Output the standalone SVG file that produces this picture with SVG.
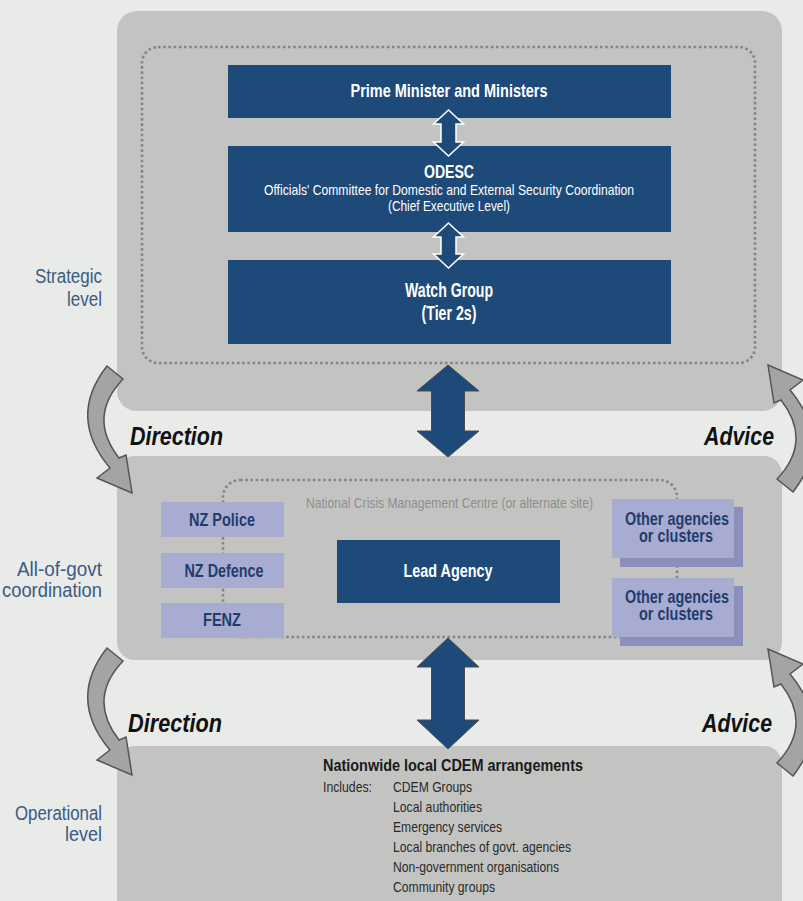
<svg xmlns="http://www.w3.org/2000/svg" width="803" height="901" viewBox="0 0 803 901">
  <style>
    .panel { fill: #c3c4c1; }
    .dots { fill: none; stroke: #858585; stroke-width: 2.6; stroke-dasharray: 2.6 2.6; }
    .blue { fill: #1e4a7a; }
    .lav { fill: #a9acd1; }
    .lavback { fill: #8a8fbd; }
    text { font-family: "Liberation Sans", Arial, sans-serif; }
    .wb { fill: #ffffff; font-weight: bold; text-anchor: middle; }
    .wr { fill: #ffffff; text-anchor: middle; }
    .db { fill: #1f3d6e; font-weight: bold; text-anchor: middle; }
    .lvl { fill: #3b5a85; font-size: 20.5px; text-anchor: end; }
    .flow { fill: #111111; font-weight: bold; font-style: italic; font-size: 25px; }
    .body { fill: #2a2a2a; font-size: 14.5px; }
    .curve { fill: #a3a5a3; stroke: #555555; stroke-width: 1.5; stroke-linejoin: miter; }
    .dbl { fill: #1e4a7a; stroke: #ffffff; stroke-width: 1.5; }
    .big { fill: #1e4a7a; stroke: #4a4a4a; stroke-width: 1; }
  </style>
  <defs>
    <path id="bend" class="curve" d="M107,366 Q67,417 110,468 L97,478 L132,493 L126,455 L119,458 Q87,417 123,379 Z"/>
  </defs>

  <rect x="0" y="0" width="803" height="901" fill="#e8ebe7"/>

  <!-- level panels -->
  <g id="strategic-panel">
    <rect class="panel" x="117" y="11" width="665" height="400" rx="20"/>
    <rect class="dots" x="142" y="47" width="613" height="316" rx="16"/>
  </g>
  <g id="coordination-panel">
    <rect class="panel" x="117" y="456" width="665" height="204" rx="18"/>
    <rect class="dots" x="223" y="480" width="454" height="157" rx="17"/>
  </g>
  <g id="operational-panel">
    <rect class="panel" x="117" y="746" width="665" height="180" rx="18"/>
  </g>

  <!-- level labels -->
  <g id="level-labels">
    <text class="lvl" x="102" y="283" textLength="67" lengthAdjust="spacingAndGlyphs">Strategic</text>
    <text class="lvl" x="102" y="306" textLength="35" lengthAdjust="spacingAndGlyphs">level</text>
    <text class="lvl" x="102" y="576" textLength="85" lengthAdjust="spacingAndGlyphs">All-of-govt</text>
    <text class="lvl" x="102" y="597" textLength="100" lengthAdjust="spacingAndGlyphs">coordination</text>
    <text class="lvl" x="102" y="820" textLength="87" lengthAdjust="spacingAndGlyphs">Operational</text>
    <text class="lvl" x="102" y="841" textLength="37" lengthAdjust="spacingAndGlyphs">level</text>
  </g>

  <!-- strategic nodes -->
  <g id="ministers">
    <rect class="blue" x="228" y="65" width="443" height="53"/>
    <text class="wb" x="449" y="97" font-size="18.5" textLength="197" lengthAdjust="spacingAndGlyphs">Prime Minister and Ministers</text>
  </g>
  <g id="odesc">
    <rect class="blue" x="228" y="146" width="443" height="86"/>
    <text class="wb" x="449" y="178" font-size="18" textLength="50" lengthAdjust="spacingAndGlyphs">ODESC</text>
    <text class="wr" x="449" y="195" font-size="15" textLength="370" lengthAdjust="spacingAndGlyphs">Officials' Committee for Domestic and External Security Coordination</text>
    <text class="wr" x="449" y="211" font-size="15" textLength="122" lengthAdjust="spacingAndGlyphs">(Chief Executive Level)</text>
  </g>
  <g id="watch-group">
    <rect class="blue" x="228" y="260" width="443" height="84"/>
    <text class="wb" x="449" y="297" font-size="20" textLength="88" lengthAdjust="spacingAndGlyphs">Watch Group</text>
    <text class="wb" x="449" y="320" font-size="20" textLength="55" lengthAdjust="spacingAndGlyphs">(Tier 2s)</text>
  </g>

  <!-- coordination nodes -->
  <g id="nz-police">
    <rect class="lav" x="161" y="502" width="123" height="35"/>
    <text class="db" x="222" y="526" font-size="18" textLength="66" lengthAdjust="spacingAndGlyphs">NZ Police</text>
  </g>
  <g id="nz-defence">
    <rect class="lav" x="161" y="553" width="123" height="35"/>
    <text class="db" x="224" y="577" font-size="18" textLength="79" lengthAdjust="spacingAndGlyphs">NZ Defence</text>
  </g>
  <g id="fenz">
    <rect class="lav" x="161" y="603" width="123" height="35"/>
    <text class="db" x="222" y="626" font-size="18" textLength="38" lengthAdjust="spacingAndGlyphs">FENZ</text>
  </g>
  <g id="nccm-centre">
    <text x="306" y="508" font-size="15" fill="#8e8e8e" textLength="287" lengthAdjust="spacingAndGlyphs">National Crisis Management Centre (or alternate site)</text>
  </g>
  <g id="lead-agency">
    <rect class="blue" x="337" y="540" width="223" height="63"/>
    <text class="wb" x="448" y="577" font-size="19" textLength="89" lengthAdjust="spacingAndGlyphs">Lead Agency</text>
  </g>
  <g id="other-agencies-1">
    <rect class="lavback" x="620" y="507" width="123" height="60"/>
    <rect class="lav" x="612" y="499" width="122" height="59"/>
    <text class="db" x="677" y="525" font-size="18" textLength="104" lengthAdjust="spacingAndGlyphs">Other agencies</text>
    <text class="db" x="676" y="542" font-size="18" textLength="74" lengthAdjust="spacingAndGlyphs">or clusters</text>
  </g>
  <g id="other-agencies-2">
    <rect class="lavback" x="620" y="586" width="123" height="60"/>
    <rect class="lav" x="612" y="578" width="122" height="59"/>
    <text class="db" x="677" y="603" font-size="18" textLength="104" lengthAdjust="spacingAndGlyphs">Other agencies</text>
    <text class="db" x="676" y="620" font-size="18" textLength="74" lengthAdjust="spacingAndGlyphs">or clusters</text>
  </g>

  <!-- operational node -->
  <g id="cdem">
    <text x="323" y="771" font-size="17" font-weight="bold" fill="#1a1a1a" textLength="260" lengthAdjust="spacingAndGlyphs">Nationwide local CDEM arrangements</text>
    <text class="body" x="323" y="792" textLength="49" lengthAdjust="spacingAndGlyphs">Includes:</text>
    <text class="body" x="393" y="792" textLength="79" lengthAdjust="spacingAndGlyphs">CDEM Groups</text>
    <text class="body" x="393" y="812" textLength="89" lengthAdjust="spacingAndGlyphs">Local authorities</text>
    <text class="body" x="393" y="832" textLength="109" lengthAdjust="spacingAndGlyphs">Emergency services</text>
    <text class="body" x="393" y="852" textLength="178" lengthAdjust="spacingAndGlyphs">Local branches of govt. agencies</text>
    <text class="body" x="393" y="872" textLength="166" lengthAdjust="spacingAndGlyphs">Non-government organisations</text>
    <text class="body" x="393" y="892" textLength="102" lengthAdjust="spacingAndGlyphs">Community groups</text>
  </g>

  <!-- connectors -->
  <g id="connectors">
    <path class="dbl" d="M448.5,110 L463.5,124 L456,124 L456,142 L463.5,142 L448.5,156 L433.5,142 L441,142 L441,124 L433.5,124 Z"/>
    <path class="dbl" d="M448.5,223 L463.5,237 L456,237 L456,254 L463.5,254 L448.5,268 L433.5,254 L441,254 L441,237 L433.5,237 Z"/>
    <path class="big" d="M448,365 L479,391 L464.5,391 L464.5,431 L479,431 L448,457 L417,431 L431.5,431 L431.5,391 L417,391 Z"/>
    <path class="big" d="M448,638 L479,667 L464.5,667 L464.5,720 L479,720 L448,749 L417,720 L431.5,720 L431.5,667 L417,667 Z"/>
    <use href="#bend"/>
    <use href="#bend" transform="translate(0,282)"/>
    <use href="#bend" transform="rotate(180 450 429)"/>
    <use href="#bend" transform="rotate(180 450 571)"/>
  </g>

  <!-- flow labels -->
  <g id="flow-labels">
    <text class="flow" x="130" y="445" textLength="93" lengthAdjust="spacingAndGlyphs">Direction</text>
    <text class="flow" x="704" y="445" textLength="70" lengthAdjust="spacingAndGlyphs">Advice</text>
    <text class="flow" x="128" y="732" textLength="94" lengthAdjust="spacingAndGlyphs">Direction</text>
    <text class="flow" x="702" y="732" textLength="70" lengthAdjust="spacingAndGlyphs">Advice</text>
  </g>
</svg>
